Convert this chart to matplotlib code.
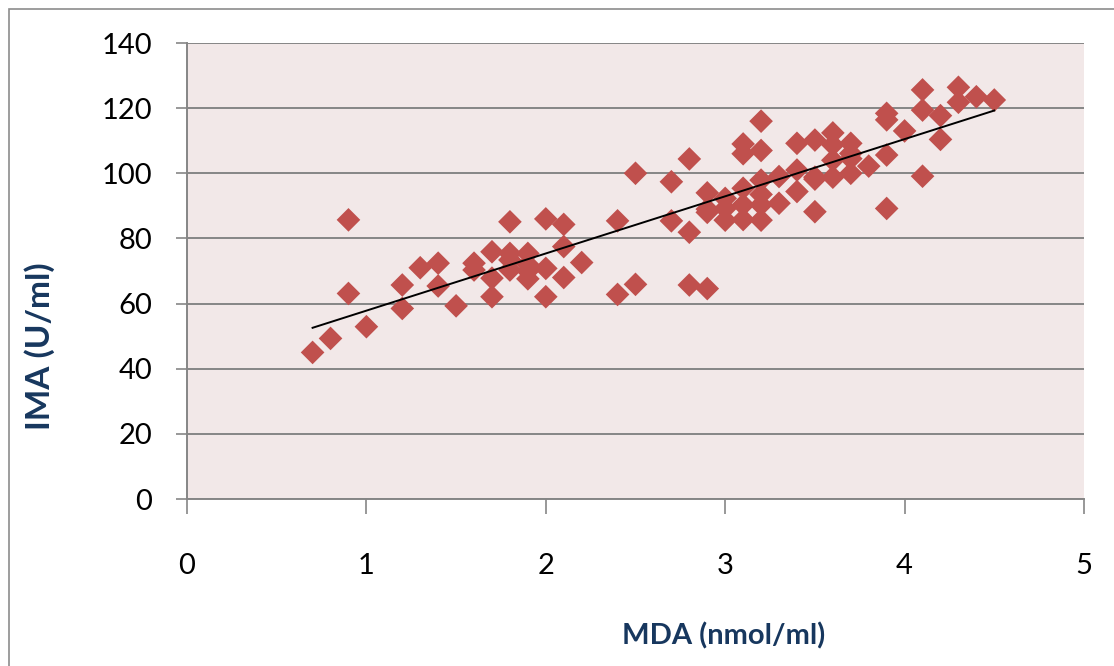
import numpy as np
import matplotlib
matplotlib.use("Agg")
import matplotlib.pyplot as plt
from matplotlib.patches import Rectangle

# Data (MDA nmol/ml vs IMA U/ml)
mda = [0.7, 0.8, 0.9, 0.9, 1.0, 1.2, 1.2, 1.3, 1.4, 1.4, 1.5,
       1.6, 1.6, 1.7, 1.7, 1.7, 1.8, 1.8, 1.8, 1.8,
       1.9, 1.9, 1.9, 1.9, 2.0, 2.0, 2.0, 2.1, 2.1, 2.1, 2.2,
       2.4, 2.4, 2.5, 2.5, 2.7, 2.7, 2.8, 2.8, 2.8,
       2.9, 2.9, 2.9, 2.9, 3.0, 3.0, 3.0,
       3.1, 3.1, 3.1, 3.1, 3.1, 3.2, 3.2, 3.2, 3.2, 3.2, 3.2,
       3.3, 3.3, 3.4, 3.4, 3.4, 3.5, 3.5, 3.5, 3.5,
       3.6, 3.6, 3.6, 3.6, 3.7, 3.7, 3.7, 3.7, 3.8,
       3.9, 3.9, 3.9, 3.9, 4.0, 4.1, 4.1, 4.1, 4.2, 4.2,
       4.3, 4.3, 4.4, 4.5]
ima = [45.0, 49.3, 85.7, 63.1, 52.9, 65.7, 58.5, 71.0, 72.4, 65.4, 59.3,
       72.4, 70.3, 75.9, 67.8, 62.1, 85.1, 75.4, 73.4, 70.3,
       75.4, 72.0, 70.0, 67.6, 86.0, 70.8, 62.1, 84.3, 77.5, 68.0, 72.6,
       85.4, 62.8, 100.0, 65.9, 97.4, 85.4, 104.4, 81.9, 65.7,
       94.0, 89.0, 88.0, 64.6, 92.3, 89.2, 85.6,
       109.0, 106.0, 95.4, 90.3, 85.8, 116.0, 107.0, 97.9, 93.5, 90.3, 85.6,
       99.0, 90.8, 109.2, 101.0, 94.4, 110.2, 98.8, 98.2, 88.2,
       112.4, 108.7, 104.0, 98.8, 109.2, 106.1, 104.5, 100.0, 102.2,
       118.4, 116.4, 105.6, 89.2, 113.0, 125.6, 119.4, 99.1, 117.7, 110.4,
       126.4, 121.8, 123.5, 122.5]

x_ticks = [0, 1, 2, 3, 4, 5]
y_ticks = [0, 20, 40, 60, 80, 100, 120, 140]

W, H = 1114, 666
fig = plt.figure(figsize=(W / 100, H / 100), dpi=100)
fig.patch.set_facecolor("white")

# chart-area border (Excel style)
fig.patches.append(Rectangle((9 / W, -0.05), 1.2, 1 - 9 / H + 0.05,
                             transform=fig.transFigure, fill=False,
                             edgecolor="#8c8c8c", linewidth=1.2))

ax = fig.add_axes([187 / W, (H - 499) / H, (1084 - 187) / W, (499 - 43) / H])
ax.set_facecolor("#F2E8E8")

ax.set_xlim(0, 5)
ax.set_ylim(0, 140)
ax.set_xticks(x_ticks)
ax.set_yticks(y_ticks)

ax.grid(axis="y", color="#868686", linewidth=1.4)
ax.set_axisbelow(True)

for s in ["top", "right"]:
    ax.spines[s].set_visible(False)
for s in ["left", "bottom"]:
    ax.spines[s].set_color("#868686")
    ax.spines[s].set_linewidth(1.4)

font = "Lato"
ax.tick_params(axis="y", length=8, width=1.2, color="#868686", pad=17,
               labelsize=21)
ax.tick_params(axis="x", length=11, width=1.2, color="#868686", pad=28,
               labelsize=21)
for lab in ax.get_xticklabels() + ax.get_yticklabels():
    lab.set_fontfamily(font)

ax.scatter(mda, ima, marker="D", s=145, color="#C0504D", edgecolors="none",
           zorder=3)

# linear trend line
coef = np.polyfit(mda, ima, 1)
xs = np.array([min(mda), max(mda)])
ax.plot(xs, np.polyval(coef, xs), color="black", linewidth=1.4, zorder=4)

fig.text(724 / W, 1 - 636 / H, "MDA (nmol/ml)", ha="center", va="center",
         fontsize=21, fontweight="bold", color="#17375E", family=font)
fig.text(40 / W, 1 - 346 / H, "IMA (U/ml)", ha="center", va="center",
         rotation=90, fontsize=24, fontweight="bold", color="#17375E",
         family=font)

fig.savefig("out.png", dpi=100)
